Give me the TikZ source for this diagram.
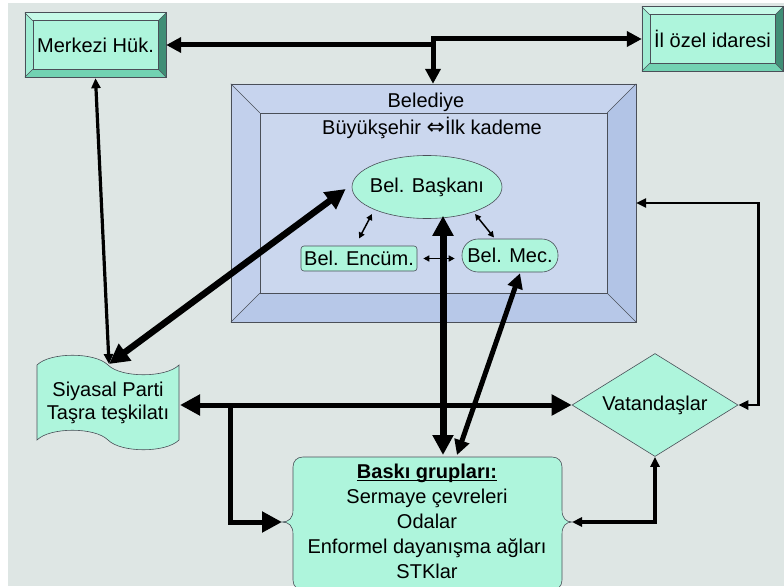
\documentclass[tikz,border=0pt]{standalone}
\usepackage{fontspec}
\setmainfont{Liberation Sans}
\newfontfamily\symfont{DejaVu Sans}
\usetikzlibrary{arrows.meta,shapes.geometric,calc}

\definecolor{bgc}{HTML}{DEE6E4}
\definecolor{tface}{HTML}{AEF5DC}
\definecolor{ttop}{HTML}{C6FAE8}
\definecolor{tleft}{HTML}{A0EDD3}
\definecolor{tright}{HTML}{408E76}
\definecolor{tbottom}{HTML}{72D2B2}
\definecolor{bface}{HTML}{CBD7EE}
\definecolor{btop}{HTML}{C7D4EE}
\definecolor{bleft}{HTML}{C2D0EC}
\definecolor{bright}{HTML}{B2C4E6}
\definecolor{bbottom}{HTML}{B7C8E8}
\definecolor{edgec}{HTML}{4A4F58}

\newcommand\bevelframe[6]{%
  \fill[#3] (#1.north west) -- (#1.north east) -- ([shift={(-#2,#2)}]#1.north east) -- ([shift={(#2,#2)}]#1.north west) -- cycle;
  \fill[#4] (#1.north west) -- ([shift={(#2,#2)}]#1.north west) -- ([shift={(#2,-#2)}]#1.south west) -- (#1.south west) -- cycle;
  \fill[#5] (#1.north east) -- (#1.south east) -- ([shift={(-#2,-#2)}]#1.south east) -- ([shift={(-#2,#2)}]#1.north east) -- cycle;
  \fill[#6] (#1.south west) -- ([shift={(#2,-#2)}]#1.south west) -- ([shift={(-#2,-#2)}]#1.south east) -- (#1.south east) -- cycle;
  \draw[edgeline] (#1.north west) -- ([shift={(#2,#2)}]#1.north west)
                  (#1.north east) -- ([shift={(-#2,#2)}]#1.north east)
                  (#1.south east) -- ([shift={(-#2,-#2)}]#1.south east)
                  (#1.south west) -- ([shift={(#2,-#2)}]#1.south west);
  \draw[edgeline] ([shift={(#2,#2)}]#1.north west) rectangle ([shift={(-#2,-#2)}]#1.south east);
  \draw[edgeline] (#1.north west) rectangle (#1.south east);
}
\newcommand\ulinebold[1]{\setbox0\hbox{\textbf{#1}}\rlap{\rule[-3pt]{\wd0}{1.5pt}}\box0}

\begin{document}
\begin{tikzpicture}[x=1pt,y=-1pt,
  font=\fontsize{20}{24}\selectfont,
  edgeline/.style={draw=edgec,line width=0.6pt},
  tealbox/.style={fill=tface,draw=edgec,line width=0.6pt,inner sep=0pt},
  tipXL/.tip={Triangle[length=20pt,width=20pt]},
  tipL/.tip={Triangle[length=15pt,width=15pt]},
  tipM/.tip={Triangle[length=10pt,width=9pt]},
  tipS/.tip={Triangle[length=6pt,width=6pt]},
  wXL/.style={line width=7pt},
  wL/.style={line width=5pt},
  wM/.style={line width=3.2pt},
  wMs/.style={line width=2.5pt},
  wS/.style={line width=1.5pt}]
\useasboundingbox (0,0) rectangle (784,586);
\clip (0,0) rectangle (784,586);
\fill[white] (0,0) rectangle (784,586);
\fill[bgc] (8,3) rectangle (784,586);

% Belediye frame
\node[fill=bface,inner sep=0pt,minimum width=405pt,minimum height=238pt] (bel) at (433.5,203) {};
\bevelframe{bel}{29}{btop}{bleft}{bright}{bbottom}
\node (beltitle) at (426,102) {Belediye};
\node (beltier) at (432,128) {Büyükşehir {\symfont\fontsize{22}{24}\selectfont ⇔}İlk kademe};

% Merkezi Hük.
\node[fill=tface,inner sep=0pt,minimum width=141pt,minimum height=64pt] (merk) at (95.5,45) {Merkezi Hük.};
\bevelframe{merk}{8}{ttop}{tleft}{tright}{tbottom}
% Il ozel idaresi
\node[fill=tface,inner sep=0pt,minimum width=141pt,minimum height=64pt] (ilozel) at (712.5,39) {İl özel idaresi};
\bevelframe{ilozel}{8}{ttop}{tleft}{tright}{tbottom}

% inner nodes
\node[tealbox,ellipse,minimum width=150pt,minimum height=63pt] (baskan) at (427,187) {\makebox[90pt][c]{Bel. Başkanı}};
\node[tealbox,rectangle,rounded corners=3pt,minimum width=116pt,minimum height=25pt] (encum) at (359,258.5) {Bel. Encüm.};
\node[tealbox,rectangle,rounded corners=16pt,minimum width=96pt,minimum height=33pt] (mec) at (510,255.5) {Bel. Mec.};

% Siyasal Parti (tape)
\filldraw[fill=tface,draw=edgec,line width=0.6pt]
  (37,365) .. controls (50,352) and (95,352) .. (108,365)
  .. controls (121,378) and (166,378) .. (179,365)
  -- (179,440) .. controls (166,453) and (121,453) .. (108,440)
  .. controls (95,427) and (50,427) .. (37,440) -- cycle;
\node[align=center,font=\fontsize{20}{23}\selectfont] (siyasal) at (108,403) {Siyasal Parti\\Taşra teşkilatı};
\coordinate (siyN) at (109,364);
\coordinate (siyE) at (180,405);

% Vatandaslar
\node[tealbox,diamond,shape aspect=1.6,minimum width=166pt,minimum height=103pt] (vat) at (655,405) {Vatandaşlar};

% Baski gruplari
\filldraw[fill=tface,draw=edgec,line width=0.6pt]
  (303,457) -- (552,457) .. controls (558,457) and (562,461) .. (562,467)
  -- (562,510) .. controls (562,518) and (566,522) .. (572,522)
  .. controls (566,522) and (562,526) .. (562,534)
  -- (562,580) .. controls (562,586) and (558,590) .. (552,590)
  -- (303,590) .. controls (297,590) and (293,586) .. (293,580)
  -- (293,534) .. controls (293,526) and (289,522) .. (282,522)
  .. controls (289,522) and (293,518) .. (293,510)
  -- (293,467) .. controls (293,461) and (297,457) .. (303,457) -- cycle;
\node[align=center,font=\fontsize{20}{25}\selectfont] (baski) at (427,521)
  {\ulinebold{Baskı grupları:}\\Sermaye çevreleri\\Odalar\\Enformel dayanışma ağları\\STKlar};
\coordinate (baskiN) at (427,457);
\coordinate (baskiW) at (282,522);
\coordinate (baskiE) at (572,522);

% connectors
\coordinate (jn) at (433,39);
\draw[wL,tipL-tipL] (merk.east) -- (merk.east -| jn) |- (ilozel.west);
\draw[wL,-tipL] (jn) -- (jn |- bel.north);

\draw[wM,tipM-tipM] ([shift={(0,1)}]merk.south) -- (siyN);
\draw[line width=6.5pt,tipXL-tipXL] ([shift={(-6,2)}]baskan.west) -- (siyN);

\coordinate (vx) at (443,0);
\draw[wXL,tipXL-tipXL] ($(baskan.south -| vx)+(0,-3)$) -- ($(baskiN -| vx)+(0,-2)$);
\draw[wL,tipL-tipL] ([shift={(10,1)}]mec.south) -- ($(baskiN)+(30,-2)$);

\draw[wS,tipS-tipS] ([shift={(-55,27)}]baskan.center) -- ([shift={(0,-20)}]encum.center);
\draw[wS,tipS-tipS] ([shift={(48,27)}]baskan.center) -- ([shift={(-16,-18)}]mec.center);
\draw[wS,tipS-tipS] ([xshift=6pt]encum.east) -- ([xshift=-7pt]encum.east -| mec.west);

\draw[wL,tipXL-tipXL] (siyE) -- (vat.west);
\coordinate (jn2) at (230,405);
\draw[wL,-tipXL] (jn2) |- (baskiW);

\draw[wM,tipM-tipM] (vat.south) |- (baskiE);
\draw[wMs,tipM-tipM] (vat.east) -- ++(20,0) |- (bel.east);
\end{tikzpicture}
\end{document}
